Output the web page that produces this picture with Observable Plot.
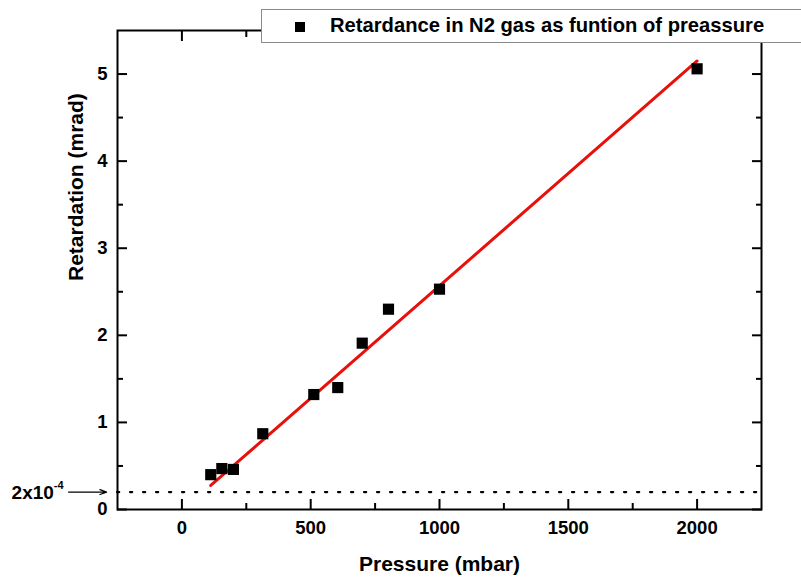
<!DOCTYPE html>
<html>
<head>
<meta charset="utf-8">
<script src="https://cdn.jsdelivr.net/npm/d3@7"></script>
<script src="https://cdn.jsdelivr.net/npm/@observablehq/plot@0.6"></script>
<style>
  body { margin: 0; background: #fff; }
  #wrap { position: relative; width: 801px; height: 578px; overflow: hidden; font-family: "Liberation Sans", Arial, sans-serif; }
  #legend { position: absolute; left: 261px; top: 9px; width: 560px; height: 34px; background: #fff; border: 1px solid #8a8a8a; box-sizing: border-box; }
  #legend .sym { position: absolute; left: 33px; top: 12px; width: 10px; height: 10px; background: #000; }
  #legend .txt { position: absolute; left: 68px; top: 4px; font-size: 20.2px; font-weight: bold; color: #000; white-space: nowrap; }
</style>
</head>
<body>
<div id="wrap"></div>
<script>
// Data
const pressure = [112, 155, 200, 314, 512, 605, 700, 802, 1000, 2000];
const retardation = [0.40, 0.47, 0.46, 0.87, 1.32, 1.40, 1.91, 2.30, 2.53, 5.06];
const fitPressure = [112, 2000];
const fitRetardation = [0.276, 5.15];
const noiseLevel = [0.2];
const xMajor = [0, 500, 1000, 1500, 2000];
const xMinor = [250, 750, 1250, 1750];
const yMajor = [0, 1, 2, 3, 4, 5];
const yMinor = [0.5, 1.5, 2.5, 3.5, 4.5];
const xLabel = "Pressure (mbar)";
const yLabel = "Retardation (mrad)";
const legendLabel = "Retardance in N2 gas as funtion of preassure";
const noiseLabel = "2x10";
const noiseExp = "-4";

const points = pressure.map((p, i) => ({p, r: retardation[i]}));
const fit = fitPressure.map((p, i) => ({p, r: fitRetardation[i]}));

const font = "Liberation Sans, Arial, sans-serif";
const fmt = d3.format("d");
const noText = () => "";

const chart = Plot.plot({
  width: 801,
  height: 578,
  marginLeft: 117,
  marginRight: 40,
  marginTop: 30,
  marginBottom: 69,
  style: {fontFamily: font, fontSize: "18px", fontWeight: "bold", color: "#000", background: "#fff"},
  x: {domain: [-250, 2250]},
  y: {domain: [0, 5.5]},
  marks: [
    Plot.ruleY(noiseLevel, {stroke: "#000", strokeWidth: 2.2, strokeDasharray: "2.2,10.8", strokeLinecap: "round"}),
    // inward ticks on all four sides
    Plot.axisX(xMajor, {anchor: "bottom", tickSize: -10, strokeWidth: 2, tickFormat: noText, label: null}),
    Plot.axisX(xMinor, {anchor: "bottom", tickSize: -6, strokeWidth: 2, tickFormat: noText, label: null}),
    Plot.axisX(xMajor, {anchor: "top", tickSize: -10, strokeWidth: 2, tickFormat: noText, label: null}),
    Plot.axisX(xMinor, {anchor: "top", tickSize: -6, strokeWidth: 2, tickFormat: noText, label: null}),
    Plot.axisY(yMajor, {anchor: "left", tickSize: -10, strokeWidth: 2, tickFormat: noText, label: null}),
    Plot.axisY(yMinor, {anchor: "left", tickSize: -6, strokeWidth: 2, tickFormat: noText, label: null}),
    Plot.axisY(yMajor, {anchor: "right", tickSize: -10, strokeWidth: 2, tickFormat: noText, label: null}),
    Plot.axisY(yMinor, {anchor: "right", tickSize: -6, strokeWidth: 2, tickFormat: noText, label: null}),
    // tick labels
    Plot.text(xMajor, {x: d => d, text: d => fmt(d), frameAnchor: "bottom", lineAnchor: "middle", dy: 19, fontSize: 18.5, fontWeight: "bold", fill: "#000"}),
    Plot.text(yMajor, {y: d => d, text: d => fmt(d), frameAnchor: "left", textAnchor: "end", lineAnchor: "middle", dx: -10, fontSize: 18.5, fontWeight: "bold", fill: "#000"}),
    // axis titles
    Plot.text([xLabel], {text: d => d, frameAnchor: "bottom", lineAnchor: "middle", dy: 55, fontSize: 21, fontWeight: "bold"}),
    Plot.text([yLabel], {text: d => d, frameAnchor: "left", lineAnchor: "middle", rotate: -90, dx: -41, dy: 11, fontSize: 21, fontWeight: "bold"}),
    Plot.frame({stroke: "#000", strokeWidth: 2}),
    Plot.line(fit, {x: "p", y: "r", stroke: "#e8100a", strokeWidth: 3}),
    Plot.dot(points, {x: "p", y: "r", symbol: "square", r: 6.3, fill: "#000", stroke: "none"}),
    // annotation for noise level
    Plot.arrow([{x1: -440, x2: -292, y: noiseLevel[0]}], {x1: "x1", x2: "x2", y1: "y", y2: "y", stroke: "#000", strokeWidth: 1.2, headLength: 9, headAngle: 40, clip: false}),
    Plot.text([{x: -497, y: noiseLevel[0]}], {x: "x", y: "y", text: () => noiseLabel, textAnchor: "end", fontSize: 19, fontWeight: "bold", dy: 1, clip: false}),
    Plot.text([{x: -497, y: noiseLevel[0]}], {x: "x", y: "y", text: () => noiseExp, textAnchor: "start", fontSize: 11, fontWeight: "bold", dy: -7, clip: false})
  ]
});

const wrap = document.getElementById("wrap");
wrap.appendChild(chart);
const legend = document.createElement("div");
legend.id = "legend";
legend.innerHTML = `<div class="sym"></div><div class="txt"></div>`;
legend.querySelector(".txt").textContent = legendLabel;
wrap.appendChild(legend);
</script>
</body>
</html>
